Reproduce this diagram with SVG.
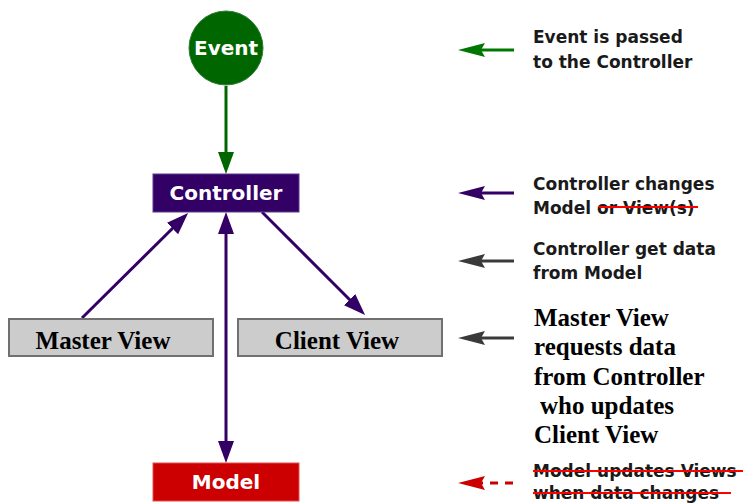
<svg xmlns="http://www.w3.org/2000/svg" width="743" height="503" viewBox="0 0 743 503">
  <style>
    .node-label { font-family: "DejaVu Sans", "Liberation Sans", sans-serif; font-weight: bold; font-size: 20px; fill: #ffffff; text-anchor: middle; }
    .view-label { font-family: "Liberation Serif", "DejaVu Serif", serif; font-weight: bold; font-size: 25px; fill: #000000; text-anchor: middle; }
    .note { font-family: "DejaVu Sans", "Liberation Sans", sans-serif; font-weight: bold; font-size: 17px; fill: #1a1a1a; }
    .note-serif { font-family: "Liberation Serif", "DejaVu Serif", serif; font-weight: bold; font-size: 25px; fill: #000000; }
    .view-box { fill: #cccccc; stroke: #707070; stroke-width: 2; }
    .flow { fill: none; stroke-width: 3; }
    .strike { stroke: #ff0000; stroke-width: 2; }
  </style>
  <defs>
    <marker id="headGreen" markerUnits="userSpaceOnUse" viewBox="0 0 22 18" markerWidth="22" markerHeight="18" refX="12" refY="9" orient="auto-start-reverse">
      <path d="M0,1 L22,9 L0,17 z" fill="#006600"/>
    </marker>
    <marker id="headPurple" markerUnits="userSpaceOnUse" viewBox="0 0 22 18" markerWidth="22" markerHeight="18" refX="12" refY="9" orient="auto-start-reverse">
      <path d="M0,1 L22,9 L0,17 z" fill="#330066"/>
    </marker>
    <marker id="keyGreen" markerUnits="userSpaceOnUse" viewBox="0 0 27 16" markerWidth="27" markerHeight="16" refX="15" refY="8" orient="auto">
      <path d="M0,1 L27,8 L0,15 L4,8 z" fill="#007700"/>
    </marker>
    <marker id="keyPurple" markerUnits="userSpaceOnUse" viewBox="0 0 27 16" markerWidth="27" markerHeight="16" refX="15" refY="8" orient="auto">
      <path d="M0,1 L27,8 L0,15 L4,8 z" fill="#330066"/>
    </marker>
    <marker id="keyGray" markerUnits="userSpaceOnUse" viewBox="0 0 27 16" markerWidth="27" markerHeight="16" refX="15" refY="8" orient="auto">
      <path d="M0,1 L27,8 L0,15 L4,8 z" fill="#3a3a3a"/>
    </marker>
    <marker id="keyRed" markerUnits="userSpaceOnUse" viewBox="0 0 27 16" markerWidth="27" markerHeight="16" refX="15" refY="8" orient="auto">
      <path d="M0,1 L27,8 L0,15 L4,8 z" fill="#cc0000"/>
    </marker>
  </defs>

  <rect x="0" y="0" width="743" height="503" fill="#ffffff"/>

  <!-- connectors between nodes -->
  <g id="connectors">
    <line class="flow" x1="226" y1="86" x2="226" y2="164" stroke="#006600" marker-end="url(#headGreen)"/>
    <line class="flow" x1="82" y1="318" x2="181" y2="220" stroke="#330066" marker-end="url(#headPurple)"/>
    <line class="flow" x1="262" y1="212" x2="358" y2="308" stroke="#330066" marker-end="url(#headPurple)"/>
    <line class="flow" x1="226" y1="222" x2="226" y2="453" stroke="#330066" marker-start="url(#headPurple)" marker-end="url(#headPurple)"/>
  </g>

  <g id="event">
    <circle cx="226" cy="48" r="37" fill="#006600" stroke="#2e7d32" stroke-width="1"/>
    <text class="node-label" x="226" y="55">Event</text>
  </g>

  <g id="controller">
    <rect x="153" y="174" width="146" height="38" fill="#330066" stroke="#5a3d8a" stroke-width="1"/>
    <text class="node-label" x="226" y="200">Controller</text>
  </g>

  <g id="master-view">
    <rect class="view-box" x="9" y="319" width="204" height="37"/>
    <text class="view-label" x="103" y="349">Master View</text>
  </g>

  <g id="client-view">
    <rect class="view-box" x="238" y="319" width="204" height="37"/>
    <text class="view-label" x="337" y="349">Client View</text>
  </g>

  <g id="model">
    <rect x="153" y="463" width="146" height="38" fill="#cc0000" stroke="#e05050" stroke-width="1"/>
    <text class="node-label" x="226" y="489">Model</text>
  </g>

  <!-- key: arrows and their explanations -->
  <g id="key-event">
    <line class="flow" x1="514" y1="50" x2="470" y2="50" stroke="#007700" marker-end="url(#keyGreen)"/>
    <text class="note" x="533" y="43">Event is passed</text>
    <text class="note" x="533" y="68">to the Controller</text>
  </g>

  <g id="key-controller-changes">
    <line class="flow" x1="514" y1="193" x2="470" y2="193" stroke="#330066" marker-end="url(#keyPurple)"/>
    <text class="note" x="533" y="190">Controller changes</text>
    <text class="note" x="533" y="214">Model or View(s)</text>
    <line class="strike" x1="599" y1="207" x2="698" y2="207"/>
  </g>

  <g id="key-get-data">
    <line class="flow" x1="514" y1="261" x2="470" y2="261" stroke="#3a3a3a" marker-end="url(#keyGray)"/>
    <text class="note" x="533" y="255">Controller get data</text>
    <text class="note" x="533" y="279">from Model</text>
  </g>

  <g id="key-master-request">
    <line class="flow" x1="514" y1="338" x2="470" y2="338" stroke="#3a3a3a" marker-end="url(#keyGray)"/>
    <text class="note-serif" x="534" y="326">Master View</text>
    <text class="note-serif" x="534" y="355">requests data</text>
    <text class="note-serif" x="534" y="385">from Controller</text>
    <text class="note-serif" x="540" y="414">who updates</text>
    <text class="note-serif" x="534" y="443">Client View</text>
  </g>

  <g id="key-model-updates">
    <line class="flow" x1="513" y1="483" x2="470" y2="483" stroke="#cc0000" stroke-dasharray="8,7" marker-end="url(#keyRed)"/>
    <text class="note" x="533" y="477">Model updates Views</text>
    <text class="note" x="533" y="499">when data changes</text>
    <line class="strike" x1="533" y1="471" x2="743" y2="471"/>
    <line class="strike" x1="533" y1="493" x2="731" y2="493"/>
  </g>
</svg>
